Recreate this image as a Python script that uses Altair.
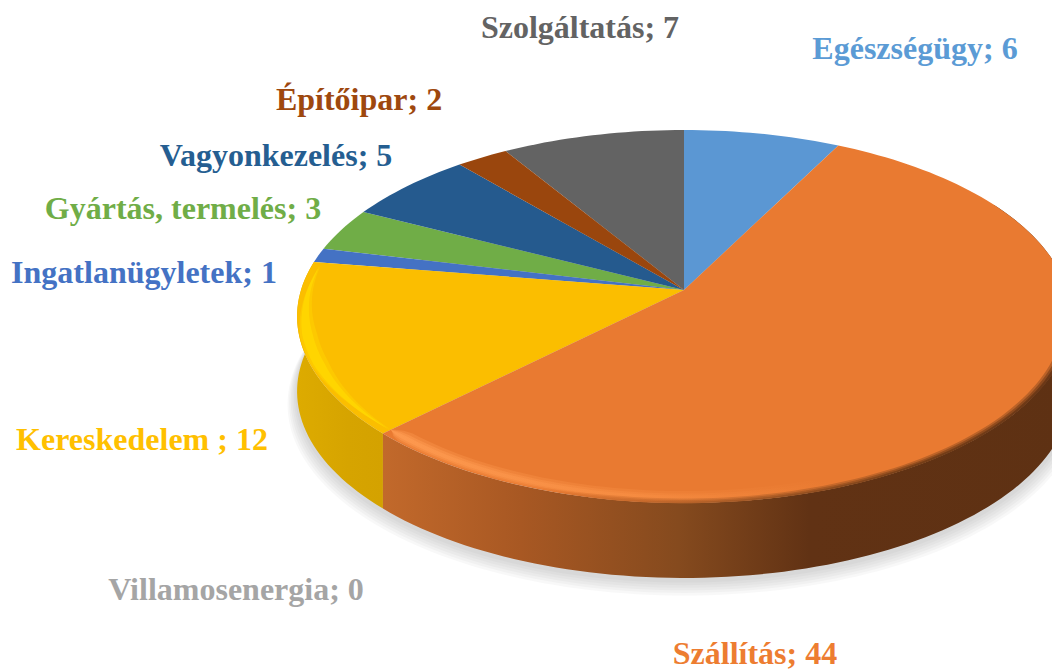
import math
import altair as alt

names = ["Egészségügy", "Szállítás", "Kereskedelem ", "Villamosenergia", "Ingatlanügyletek",
         "Gyártás, termelés", "Vagyonkezelés", "Építőipar", "Szolgáltatás"]
values = [6, 44, 12, 0, 1, 3, 5, 2, 7]
top_colors = ["#5B97D3", "#E97A31", "#FBBE00", "#A5A5A5", "#4472C4", "#70AD47", "#255A8E", "#9A460D", "#636363"]
text_colors = ["#5B9BD5", "#ED7D31", "#FFC000", "#A5A5A5", "#4472C4", "#70AD47", "#255E91", "#9E480E", "#636363"]
label_x = [907, 747, 134, 228, 136, 175, 268, 351, 572]
label_y = [41, 646, 432, 582, 265, 201, 148, 92, 20]

W, H = 1044, 663
APEX = [676, 282]
A, B, K, DEPTH = 383.0, 182.7, 0.142, 75.0
STEP = 1.5


def pt(deg, r=1.0, dz=0.0):
    t = math.radians(deg)
    u, v = r * math.sin(t), -r * math.cos(t)
    d = 1 - K * v
    return [A * u / d, B * v / d + dz]


def arc(a0, a1, r=1.0, dz=0.0):
    n = max(2, int(abs(a1 - a0) / STEP) + 1)
    return [pt(a0 + (a1 - a0) * i / n, r, dz) for i in range(n + 1)]


def band(a0, a1, r_in, r_out, taper=15.0):
    """Ring segment whose inner edge closes onto the middle of the ring at both ends."""
    n = max(2, int(abs(a1 - a0) / STEP) + 1)
    mid = (r_in + r_out) / 2
    angs = [a0 + (a1 - a0) * i / n for i in range(n + 1)]

    def f(a):
        return min(1.0, min(a - a0, a1 - a) / taper)
    outer = [pt(a, mid + (r_out - mid) * f(a)) for a in angs]
    inner = [pt(a, mid - (mid - r_in) * f(a)) for a in reversed(angs)]
    return outer + inner


def feature(ring, **props):
    ring = ring + [ring[0]]
    return {"type": "Feature", "properties": props,
            "geometry": {"type": "Polygon", "coordinates": [ring]}}


def geo(features, **mark):
    data = alt.InlineData(values={"type": "FeatureCollection", "features": features},
                          format=alt.DataFormat(property="features", type="json"))
    return alt.Chart(data).mark_geoshape(**mark).project(type="identity", scale=1, translate=APEX)


def grad(stops):
    return alt.LinearGradient(gradient="linear", x1=0, x2=1, y1=0, y2=0,
                              stops=[alt.GradientStop(offset=o, color=c) for o, c in stops])


total = sum(values)
starts, slices = [], []
acc = 0
for n, v, c in zip(names, values, top_colors):
    a0, a1 = acc / total * 360, (acc + v) / total * 360
    starts.append((a0, a1))
    if v:
        slices.append(feature([[0, 0]] + arc(a0, a1), name=n, color=c))
    acc += v

oa0, oa1 = starts[1]
ya0, ya1 = starts[2]

shadow = [geo([feature(arc(0, 359.9, 1.0 + 0.004 * i, DEPTH + 2 + 1.6 * i))], fill="#808080", opacity=0.055, stroke=None)
          for i in range(1, 7)]

wall_orange = geo([feature(arc(60, oa1) + arc(oa1, 60, 1.0, DEPTH))], stroke=None, fill=grad(
    [(0, "#C2692B"), (0.2, "#A85823"), (0.43, "#854A1E"), (0.62, "#613214"), (1, "#5E3113")]))
wall_yellow = geo([feature(arc(ya0, ya1) + arc(ya1, ya0, 1.0, DEPTH))], stroke=None, fill=grad(
    [(0, "#DDAB00"), (0.6, "#D6A400"), (1, "#D4A200")]))

top = geo(slices, stroke=None).encode(
    fill=alt.Fill("properties.color:N", scale=None),
    order=alt.Order("properties.name:N"))

light = grad([(0, "#FF9C52"), (0.55, "#F78D42"), (1, "#E97A31")])
dark = grad([(0, "#E97A31"), (0.35, "#A85B26"), (0.7, "#6E3A15"), (1, "#613214")])
bands = [
    geo([feature(band(160, oa1, 0.952, 0.996, 2))], fill=light, stroke=None, opacity=0.35),
    geo([feature(band(160, oa1, 0.962, 0.99, 2))], fill=light, stroke=None, opacity=0.5),
    geo([feature(band(160, oa1, 0.97, 0.984, 2))], fill=light, stroke=None, opacity=0.7),
    geo([feature(band(88, 200, 0.982, 1.001, 10))], fill=dark, stroke=None, opacity=0.35),
    geo([feature(band(88, 200, 0.988, 1.001, 10))], fill=dark, stroke=None, opacity=0.5),
    geo([feature(band(88, 200, 0.994, 1.001, 10))], fill=dark, stroke=None, opacity=0.8),
    geo([feature(band(ya0, ya1 - 1, 0.955, 0.998, 22))], fill="#FFD800", stroke=None, opacity=0.45),
    geo([feature(band(ya0, ya1 - 1, 0.966, 0.992, 22))], fill="#FFD800", stroke=None, opacity=0.8),
]

label_rows = [{"t": f"{n}; {v}", "x": x, "y": y, "c": c}
              for n, v, x, y, c in zip(names, values, label_x, label_y, text_colors)]
labels = alt.Chart(alt.Data(values=label_rows)).mark_text(
    font="Liberation Serif", fontWeight="bold", fontSize=32, align="center", baseline="middle"
).encode(
    x=alt.X("x:Q", scale=None), y=alt.Y("y:Q", scale=None),
    text="t:N", color=alt.Color("c:N", scale=None),
)

chart = alt.layer(*shadow, wall_yellow, wall_orange, top, *bands, labels).properties(
    width=W, height=H, padding=0, autosize=alt.AutoSizeParams(type="none"),
    background="#FFFFFF",
).configure_view(stroke=None)

chart.save("out.html", embed_options={"renderer": "svg", "actions": False})
